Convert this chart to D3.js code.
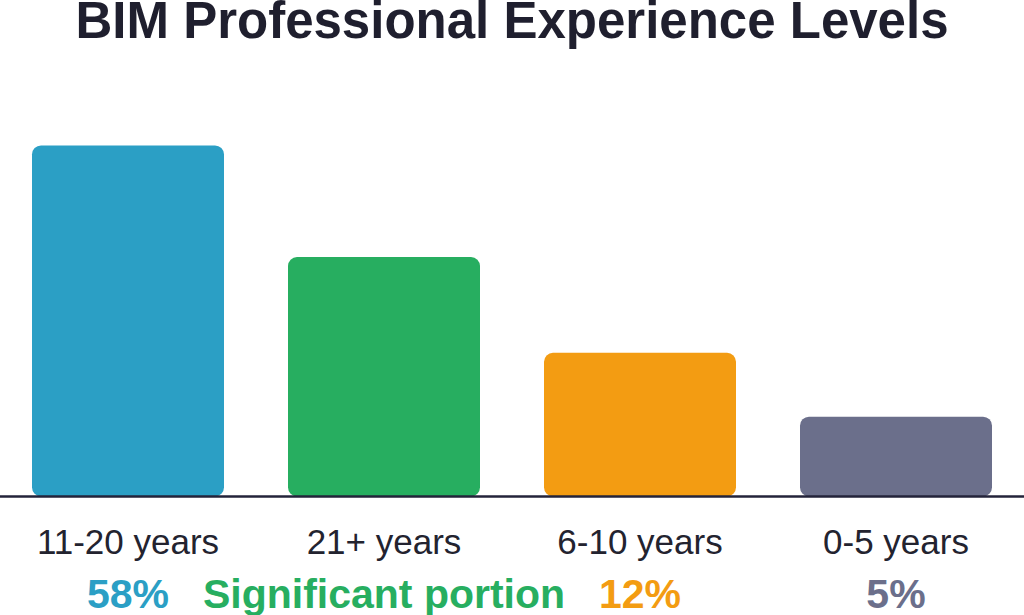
<!DOCTYPE html>
<html>
<head>
<meta charset="utf-8">
<script src="https://cdn.jsdelivr.net/npm/d3@7/dist/d3.min.js"></script>
<style>
  html, body { margin: 0; padding: 0; background: #ffffff; }
  svg { display: block; }
</style>
</head>
<body>
<svg id="chart" width="1024" height="615"></svg>
<script>
const title = "BIM Professional Experience Levels";
const categories = ["11-20 years", "21+ years", "6-10 years", "0-5 years"];
const values = [44, 30, 18, 10];
const valueLabels = ["58%", "Significant portion", "12%", "5%"];
const colors = ["#2b9fc5", "#27ae60", "#f39c12", "#6b6f8b"];

const W = 1024, H = 615;
const baseY = 496.5;
const svg = d3.select("#chart");

const x = d3.scaleBand()
  .domain(categories)
  .range([0, W])
  .paddingInner(0.25)
  .paddingOuter(0.125);

const y = d3.scaleLinear()
  .domain([0, 50])
  .range([baseY, baseY - 399]);

svg.append("text")
  .attr("x", W / 2)
  .attr("y", 37.5)
  .attr("text-anchor", "middle")
  .attr("font-family", "'Liberation Sans', Arial, sans-serif")
  .attr("font-weight", "bold")
  .attr("font-size", 51)
  .attr("fill", "#1f1f2e")
  .text(title);

svg.append("g")
  .selectAll("rect")
  .data(categories)
  .join("rect")
  .attr("x", d => x(d))
  .attr("y", (d, i) => y(values[i]))
  .attr("width", x.bandwidth())
  .attr("height", (d, i) => y(0) - y(values[i]))
  .attr("rx", 9)
  .attr("ry", 9)
  .attr("fill", (d, i) => colors[i]);

svg.append("line")
  .attr("x1", 0)
  .attr("x2", W)
  .attr("y1", baseY)
  .attr("y2", baseY)
  .attr("stroke", "#23233a")
  .attr("stroke-width", 2.5);

svg.append("g")
  .selectAll("text")
  .data(categories)
  .join("text")
  .attr("x", d => x(d) + x.bandwidth() / 2)
  .attr("y", 554)
  .attr("text-anchor", "middle")
  .attr("font-family", "'Liberation Sans', Arial, sans-serif")
  .attr("font-size", 35)
  .attr("fill", "#23232f")
  .text(d => d);

svg.append("g")
  .selectAll("text")
  .data(categories)
  .join("text")
  .attr("x", d => x(d) + x.bandwidth() / 2)
  .attr("y", 608)
  .attr("text-anchor", "middle")
  .attr("font-family", "'Liberation Sans', Arial, sans-serif")
  .attr("font-weight", "bold")
  .attr("font-size", 41)
  .attr("fill", (d, i) => colors[i])
  .text((d, i) => valueLabels[i]);
</script>
</body>
</html>
